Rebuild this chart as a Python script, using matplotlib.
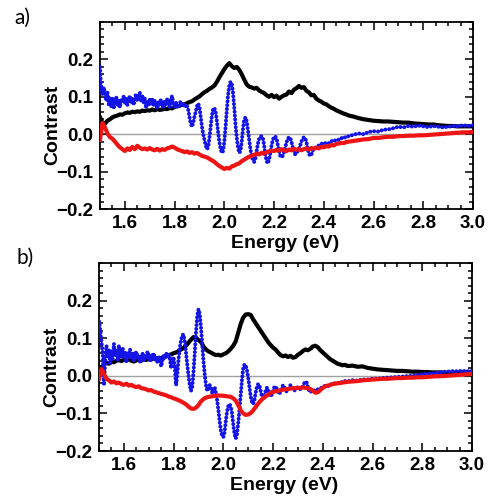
import numpy as np
import matplotlib
matplotlib.use("Agg")
import matplotlib.pyplot as plt
from matplotlib.ticker import MultipleLocator

# energy axes (eV): black/red sampled every 0.01 up to 2.5 then 0.02; blue finer in the fringe region
E_LINE = np.round(np.concatenate([np.arange(1.50, 2.505, 0.01), np.arange(2.52, 3.005, 0.02)]), 3)
E_BLUE = np.round(np.concatenate([np.arange(1.500, 2.3575, 0.005), np.arange(2.36, 2.505, 0.01),
                                  np.arange(2.52, 3.005, 0.02)]), 3)

# ---- panel a) ----
black_a = [
    0.045, 0.030, 0.028, 0.036, 0.040, 0.045, 0.048, 0.050, 0.053, 0.052,
    0.056, 0.058, 0.057, 0.060, 0.059, 0.061, 0.060, 0.063, 0.062, 0.064,
    0.063, 0.066, 0.064, 0.067, 0.065, 0.066, 0.068, 0.067, 0.070, 0.069,
    0.073, 0.075, 0.076, 0.079, 0.080, 0.083, 0.086, 0.088, 0.093, 0.097,
    0.101, 0.107, 0.112, 0.116, 0.121, 0.125, 0.130, 0.140, 0.152, 0.163,
    0.174, 0.183, 0.190, 0.182, 0.177, 0.180, 0.172, 0.160, 0.146, 0.133,
    0.127, 0.125, 0.122, 0.124, 0.117, 0.113, 0.110, 0.104, 0.100, 0.105,
    0.099, 0.103, 0.095, 0.100, 0.104, 0.106, 0.114, 0.110, 0.119, 0.123,
    0.129, 0.124, 0.126, 0.116, 0.112, 0.104, 0.105, 0.095, 0.090, 0.087,
    0.082, 0.080, 0.075, 0.071, 0.068, 0.064, 0.061, 0.058, 0.055, 0.053,
    0.050,
    0.047, 0.043, 0.040, 0.038, 0.036, 0.035, 0.034, 0.034, 0.033, 0.032,
    0.031, 0.031, 0.029, 0.028, 0.027, 0.026, 0.026, 0.024, 0.023, 0.022,
    0.022, 0.021, 0.021, 0.021, 0.021]
red_a = [
    -0.015, 0.030, 0.018, 0.002, -0.008, -0.012, -0.020, -0.028, -0.035, -0.040,
    -0.045, -0.038, -0.042, -0.034, -0.040, -0.031, -0.036, -0.040, -0.038, -0.041,
    -0.037, -0.041, -0.043, -0.039, -0.044, -0.040, -0.042, -0.038, -0.036, -0.033,
    -0.036, -0.040, -0.043, -0.045, -0.048, -0.046, -0.050, -0.048, -0.052, -0.050,
    -0.054, -0.058, -0.060, -0.062, -0.066, -0.070, -0.074, -0.080, -0.085, -0.089,
    -0.093, -0.090, -0.092, -0.086, -0.084, -0.080, -0.078, -0.072, -0.068, -0.064,
    -0.060, -0.058, -0.055, -0.052, -0.054, -0.050, -0.052, -0.048, -0.046, -0.044,
    -0.045, -0.042, -0.044, -0.040, -0.043, -0.045, -0.041, -0.043, -0.039, -0.042,
    -0.040, -0.043, -0.040, -0.038, -0.041, -0.037, -0.039, -0.036, -0.038, -0.034,
    -0.035, -0.032, -0.033, -0.029, -0.030, -0.026, -0.025, -0.023, -0.024, -0.021,
    -0.020,
    -0.018, -0.016, -0.014, -0.013, -0.010, -0.010, -0.008, -0.007, -0.007, -0.005,
    -0.005, -0.004, -0.004, -0.003, -0.003, -0.002, -0.001, 0.000, 0.001, 0.002,
    0.003, 0.004, 0.005, 0.005, 0.006]
blue_a = [
    0.180, 0.120, 0.105, 0.125, 0.110, 0.090, 0.112, 0.080, 0.098, 0.075,
    0.095, 0.068, 0.088, 0.100, 0.078, 0.092, 0.072, 0.095, 0.085, 0.100,
    0.082, 0.096, 0.078, 0.090, 0.103, 0.085, 0.098, 0.078, 0.094, 0.108,
    0.088, 0.100, 0.112, 0.090, 0.105, 0.082, 0.095, 0.070, 0.088, 0.076,
    0.092, 0.080, 0.095, 0.075, 0.090, 0.082, 0.068, 0.085, 0.078, 0.092,
    0.080, 0.070, 0.088, 0.076, 0.093, 0.080, 0.072, 0.095, 0.102, 0.080,
    0.070, 0.085, 0.078, 0.070, 0.082, 0.088, 0.075, 0.083, 0.072, 0.080,
    0.075, 0.065, 0.045, 0.028, 0.020, 0.030, 0.048, 0.060, 0.075, 0.082,
    0.072, 0.045, 0.020, 0.000, -0.015, -0.030, -0.040, -0.035, -0.010, 0.020,
    0.050, 0.068, 0.070, 0.060, 0.035, 0.005, -0.020, -0.040, -0.050, -0.045,
    -0.020, 0.020, 0.065, 0.105, 0.130, 0.140, 0.135, 0.110, 0.070, 0.025,
    -0.010, -0.035, -0.050, -0.045, -0.020, 0.015, 0.040, 0.045, 0.035, 0.010,
    -0.015, -0.040, -0.058, -0.070, -0.074, -0.065, -0.045, -0.025, -0.012, -0.006,
    -0.005, -0.010, -0.030, -0.055, -0.072, -0.078, -0.068, -0.050, -0.030, -0.015,
    -0.007, -0.006, -0.012, -0.028, -0.045, -0.058, -0.062, -0.058, -0.048, -0.035,
    -0.022, -0.012, -0.008, -0.010, -0.020, -0.035, -0.048, -0.054, -0.052, -0.045,
    -0.038, -0.030, -0.020, -0.012, -0.008, -0.010, -0.020, -0.038, -0.052, -0.058,
    -0.055, -0.045,
    -0.038, -0.035, -0.030, -0.025, -0.027, -0.022, -0.024, -0.018, -0.020, -0.014,
    -0.015, -0.010, -0.012, -0.005, -0.006,
    -0.001, 0.002, 0.000, 0.006, 0.008, 0.007, 0.012, 0.013, 0.016, 0.020,
    0.018, 0.022, 0.020, 0.023, 0.021, 0.019, 0.022, 0.020, 0.018, 0.020,
    0.022, 0.021, 0.024, 0.022, 0.024]

# ---- panel b) ----
black_b = [
    0.025, 0.018, 0.030, 0.035, 0.032, 0.038, 0.036, 0.040, 0.042, 0.039,
    0.043, 0.041, 0.044, 0.040, 0.038, 0.041, 0.043, 0.040, 0.044, 0.042,
    0.045, 0.043, 0.047, 0.045, 0.048, 0.047, 0.050, 0.052, 0.055, 0.057,
    0.060, 0.062, 0.066, 0.070, 0.074, 0.080, 0.088, 0.096, 0.103, 0.101,
    0.095, 0.090, 0.078, 0.070, 0.065, 0.062, 0.058, 0.055, 0.056, 0.054,
    0.057, 0.060, 0.065, 0.072, 0.080, 0.092, 0.115, 0.138, 0.155, 0.163,
    0.164, 0.162, 0.150, 0.140, 0.130, 0.120, 0.110, 0.100, 0.090, 0.082,
    0.075, 0.070, 0.062, 0.055, 0.052, 0.054, 0.050, 0.053, 0.048, 0.050,
    0.056, 0.060, 0.066, 0.070, 0.068, 0.072, 0.078, 0.080, 0.076, 0.068,
    0.062, 0.056, 0.050, 0.044, 0.040, 0.036, 0.032, 0.030, 0.028, 0.029,
    0.026,
    0.027, 0.024, 0.025, 0.021, 0.019, 0.017, 0.016, 0.015, 0.014, 0.013,
    0.013, 0.012, 0.011, 0.011, 0.010, 0.010, 0.009, 0.009, 0.009, 0.008,
    0.008, 0.009, 0.009, 0.010, 0.010]
red_b = [
    -0.008, 0.018, 0.005, -0.008, -0.012, -0.018, -0.015, -0.020, -0.018, -0.022,
    -0.024, -0.021, -0.026, -0.024, -0.028, -0.030, -0.028, -0.033, -0.034, -0.036,
    -0.039, -0.038, -0.042, -0.044, -0.046, -0.048, -0.050, -0.052, -0.055, -0.057,
    -0.060, -0.062, -0.065, -0.068, -0.072, -0.076, -0.082, -0.087, -0.088, -0.085,
    -0.078, -0.068, -0.062, -0.058, -0.056, -0.055, -0.054, -0.053, -0.052, -0.053,
    -0.053, -0.054, -0.055, -0.056, -0.060, -0.066, -0.078, -0.092, -0.100, -0.104,
    -0.103, -0.099, -0.092, -0.083, -0.074, -0.066, -0.060, -0.055, -0.050, -0.046,
    -0.043, -0.041, -0.040, -0.038, -0.037, -0.036, -0.035, -0.034, -0.033, -0.033,
    -0.032, -0.032, -0.031, -0.032, -0.033, -0.035, -0.040, -0.045, -0.044, -0.038,
    -0.032, -0.028, -0.026, -0.024, -0.022, -0.021, -0.020, -0.019, -0.018, -0.017,
    -0.016,
    -0.015, -0.014, -0.012, -0.011, -0.010, -0.009, -0.008, -0.008, -0.007, -0.006,
    -0.006, -0.005, -0.005, -0.004, -0.004, -0.003, -0.002, -0.001, -0.001, 0.000,
    0.001, 0.002, 0.003, 0.004, 0.005]
blue_b = [
    0.145, 0.120, 0.090, 0.060, -0.025, 0.040, 0.080, 0.050, 0.070, 0.030,
    0.065, 0.045, 0.085, 0.055, 0.070, 0.040, 0.080, 0.060, 0.050, 0.075,
    0.045, 0.065, 0.035, 0.060, 0.050, 0.070, 0.045, 0.060, 0.040, 0.055,
    0.065, 0.045, 0.055, 0.035, 0.050, 0.060, 0.040, 0.055, 0.045, 0.065,
    0.050, 0.040, 0.058, 0.045, 0.060, 0.040, 0.052, 0.035, 0.050, 0.045,
    0.025, 0.040, 0.055, 0.045, 0.060, 0.050, 0.058, 0.045, 0.020, 0.040,
    0.050, 0.020, -0.025, 0.005, 0.045, 0.075, 0.095, 0.108, 0.110, 0.090,
    0.060, 0.030, 0.000, -0.025, -0.040, -0.030, 0.010, 0.060, 0.115, 0.160,
    0.177, 0.165, 0.130, 0.085, 0.040, 0.005, -0.025, -0.040, -0.035, -0.025,
    -0.030, -0.045, -0.040, -0.030, -0.045, -0.065, -0.090, -0.120, -0.145, -0.160,
    -0.163, -0.150, -0.120, -0.095, -0.080, -0.075, -0.082, -0.100, -0.130, -0.155,
    -0.167, -0.155, -0.125, -0.090, -0.050, -0.010, 0.020, 0.030, 0.028, 0.015,
    -0.005, -0.030, -0.055, -0.070, -0.075, -0.065, -0.045, -0.030, -0.022, -0.025,
    -0.040, -0.055, -0.060, -0.052, -0.040, -0.032, -0.035, -0.048, -0.055, -0.050,
    -0.040, -0.030, -0.028, -0.035, -0.045, -0.048, -0.042, -0.032, -0.025, -0.028,
    -0.038, -0.042, -0.038, -0.030, -0.025, -0.028, -0.036, -0.040, -0.036, -0.032,
    -0.030, -0.033, -0.036, -0.034, -0.028, -0.020, -0.015, -0.018, -0.030, -0.040,
    -0.044, -0.040,
    -0.038, -0.040, -0.036, -0.033, -0.030, -0.026, -0.028, -0.022, -0.024, -0.019,
    -0.020, -0.016, -0.018, -0.014, -0.015,
    -0.012, -0.013, -0.010, -0.010, -0.008, -0.008, -0.006, -0.005, -0.004, -0.003,
    -0.002, -0.001, 0.000, 0.002, 0.004, 0.005, 0.006, 0.008, 0.010, 0.011,
    0.012, 0.012, 0.013, 0.012, 0.013]

PANELS = [("a)", black_a, blue_a, red_a), ("b)", black_b, blue_b, red_b)]

plt.rcParams["font.family"] = ["Liberation Sans", "DejaVu Sans"]

fig = plt.figure(figsize=(5.01, 4.97), dpi=100)
rects = [[100 / 501, 1 - 209 / 497, 373 / 501, 187 / 497],
         [99 / 501, 1 - 451 / 497, 373 / 501, 188 / 497]]
tags_xy = [(14 / 501, 1 - 18 / 497), (17 / 501, 1 - 258 / 497)]

for (tag, blk, blu, red), rect, txy in zip(PANELS, rects, tags_xy):
    ax = fig.add_axes(rect)
    ax.axhline(0, color="#a0a0a0", lw=1.0, zorder=1)
    ax.plot(E_LINE, blk, color="black", lw=3.0, zorder=2, solid_joinstyle="round")
    ax.plot(E_BLUE, blu, color="#1414e6", lw=2.9, zorder=3,
            linestyle=(0, (0.01, 0.95)), dash_capstyle="round")
    ax.plot(E_LINE, red, color="#ee1414", lw=3.0, zorder=4, solid_joinstyle="round")

    ax.set_xlim(1.5, 3.0)
    ax.set_ylim(-0.2, 0.3)
    ax.xaxis.set_major_locator(MultipleLocator(0.2))
    ax.xaxis.set_minor_locator(MultipleLocator(0.05))
    ax.yaxis.set_major_locator(MultipleLocator(0.1))
    ax.yaxis.set_minor_locator(MultipleLocator(0.02))
    ax.set_yticks([-0.2, -0.1, 0.0, 0.1, 0.2])
    ax.tick_params(which="both", direction="in", top=True, right=True, width=1.1)
    ax.tick_params(which="major", length=6)
    ax.tick_params(which="minor", length=3)
    ax.tick_params(axis="y", pad=5)
    ax.tick_params(axis="x", pad=4)
    for lab in ax.get_xticklabels() + ax.get_yticklabels():
        lab.set_fontsize(13.5)
        lab.set_fontweight("bold")
    for s in ax.spines.values():
        s.set_linewidth(1.3)

    ax.set_ylabel("Contrast", fontsize=14, fontweight="bold")
    ax.yaxis.set_label_coords(-0.105, 0.45)
    ax.set_xlabel("Energy (eV)", fontsize=14, fontweight="bold")
    ax.xaxis.set_label_coords(0.496, -0.14)

    fig.text(txy[0], txy[1], tag, fontsize=15, family="Lato", ha="left", va="center")

fig.savefig("out.png", dpi=100)
